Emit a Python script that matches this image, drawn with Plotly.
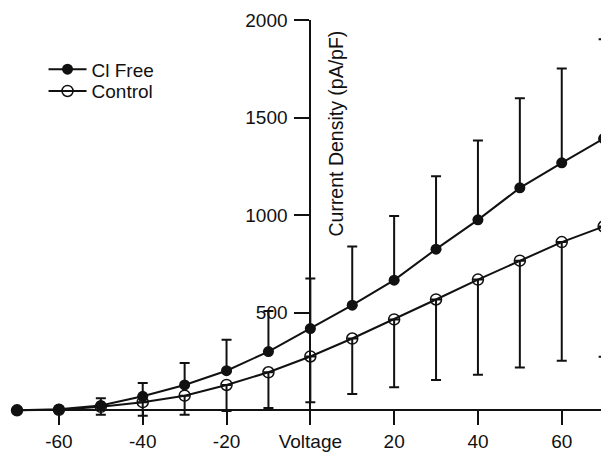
import plotly.graph_objects as go

voltage = [-70, -60, -50, -40, -30, -20, -10, 0, 10, 20, 30, 40, 50, 60, 70]

cl_free = [0, 5, 25, 72, 130, 203, 301, 419, 539, 667, 826, 976, 1140, 1268, 1392]
cl_free_err_up = [0, 6, 37, 68, 112, 159, 208, 256, 301, 329, 374, 407, 459, 484, 510]

control = [0, 3, 18, 42, 75, 130, 195, 276, 368, 466, 568, 670, 767, 862, 942]
control_err_down = [0, 6, 41, 70, 98, 133, 183, 234, 284, 348, 413, 488, 547, 608, 668]

x_tick_vals = [-60, -40, -20, 0, 20, 40, 60]
x_tick_text = ["-60", "-40", "-20", "Voltage", "20", "40", "60"]
y_tick_vals = [500, 1000, 1500, 2000]
y_tick_text = ["500", "1000", "1500", "2000"]

x_range = [-71.2, 70.8]
y_range = [-70, 2000]

FONT = "Arial, 'Liberation Sans', Helvetica, sans-serif"
INK = "#111111"

fig = go.Figure()

fig.add_trace(go.Scatter(
    x=voltage, y=cl_free, name="Cl Free", mode="lines+markers",
    line=dict(color=INK, width=2),
    marker=dict(symbol="circle", size=11, color=INK),
    error_y=dict(type="data", symmetric=False, array=cl_free_err_up,
                 arrayminus=[0] * len(cl_free), color=INK, thickness=2, width=5),
    cliponaxis=False, legend="legend",
))

fig.add_trace(go.Scatter(
    x=voltage, y=control, name="Control", mode="lines+markers",
    line=dict(color=INK, width=2),
    marker=dict(symbol="circle-open", size=11, color=INK, line=dict(width=1.5, color=INK)),
    error_y=dict(type="data", symmetric=False, array=[0] * len(control),
                 arrayminus=control_err_down, color=INK, thickness=2, width=5),
    cliponaxis=False, legend="legend2",
))

legend_style = dict(xanchor="left", yanchor="top", bgcolor="rgba(0,0,0,0)",
                    font=dict(size=19, family=FONT, color=INK), itemwidth=38)

# the page body has an 8px margin, so the figure is shifted by 8px; compensate
fig.update_layout(
    width=601, height=446,
    margin=dict(l=4, r=2, t=11, b=29),
    paper_bgcolor="white", plot_bgcolor="white",
    font=dict(family=FONT, size=19, color=INK),
    showlegend=True,
    legend=dict(x=0.053, y=0.925, **legend_style),
    legend2=dict(x=0.053, y=0.871, **legend_style),
    xaxis=dict(
        range=x_range, anchor="free", position=(0 - y_range[0]) / (y_range[1] - y_range[0]),
        showgrid=False, zeroline=False, showline=True, linecolor=INK, linewidth=2,
        ticks="outside", ticklen=14, tickwidth=2, tickcolor=INK,
        tickvals=x_tick_vals, ticktext=x_tick_text,
        tickfont=dict(size=19, family=FONT, color=INK),
    ),
    yaxis=dict(
        range=y_range, anchor="free", position=(0 - x_range[0]) / (x_range[1] - x_range[0]),
        showgrid=False, zeroline=False, showline=True, linecolor=INK, linewidth=2,
        ticks="outside", ticklen=15, tickwidth=2, tickcolor=INK,
        tickvals=y_tick_vals, ticktext=y_tick_text, ticklabelstandoff=3,
        tickfont=dict(size=19, family=FONT, color=INK),
    ),
    annotations=[dict(
        text="Current Density (pA/pF)", textangle=-90,
        xref="x", yref="y", x=0, y=1420, xanchor="left", yanchor="middle",
        xshift=13, showarrow=False, font=dict(size=19.5, family=FONT, color=INK),
    )],
)

fig.write_html("out.html")
